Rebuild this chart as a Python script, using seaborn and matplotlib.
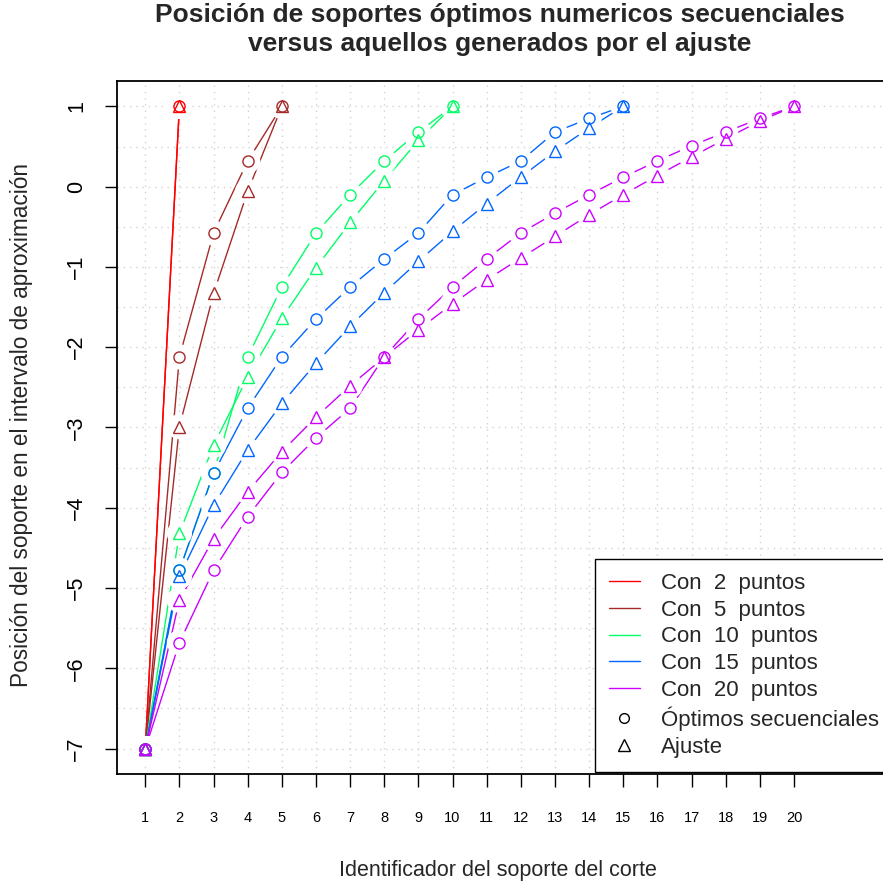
import matplotlib
matplotlib.use("Agg")
import matplotlib.pyplot as plt
import seaborn as sns
import pandas as pd
from matplotlib.lines import Line2D
from matplotlib.ticker import MultipleLocator

sns.set_style("white")
plt.rcParams["font.family"] = ["Liberation Sans", "DejaVu Sans"]

# ---------------- data ----------------
ids = list(range(1, 21))
n_puntos = [2, 5, 10, 15, 20]
colores = ["#FF0000", "#A52A2A", "#00FF66", "#0066FF", "#CC00FF"]

opt_2 = [-7, 1]
opt_5 = [-7, -2.12, -0.577, 0.32, 1]
opt_10 = [-7, -4.78, -3.57, -2.12, -1.25, -0.577, -0.10, 0.32, 0.68, 1]
opt_15 = [-7, -4.78, -3.57, -2.76, -2.12, -1.65, -1.25, -0.90, -0.577, -0.10,
          0.117, 0.32, 0.68, 0.85, 1]
opt_20 = [-7, -5.68, -4.78, -4.11, -3.56, -3.13, -2.76, -2.12, -1.65, -1.25,
          -0.90, -0.577, -0.33, -0.10, 0.117, 0.32, 0.51, 0.68, 0.85, 1]

fit_2 = [-7, 1]
fit_5 = [-7, -2.99, -1.33, -0.057, 1]
fit_10 = [-7, -4.32, -3.22, -2.37, -1.64, -1.01, -0.445, 0.076, 0.576, 1]
fit_15 = [-7, -4.855, -3.97, -3.28, -2.70, -2.20, -1.74, -1.32, -0.93, -0.557,
          -0.21, 0.12, 0.44, 0.73, 1]
fit_20 = [-7, -5.15, -4.385, -3.80, -3.30, -2.87, -2.48, -2.125, -1.78, -1.46,
          -1.16, -0.89, -0.62, -0.35, -0.10, 0.139, 0.37, 0.597, 0.817, 1]

y_ticks = [-7, -6, -5, -4, -3, -2, -1, 0, 1]

titulo_1 = "Posición de soportes óptimos numericos secuenciales"
titulo_2 = "versus aquellos generados por el ajuste"
x_label = "Identificador del soporte del corte"
y_label = "Posición del soporte en el intervalo de aproximación"
lbl_opt = "Óptimos secuenciales"
lbl_fit = "Ajuste"

opt_all = [opt_2, opt_5, opt_10, opt_15, opt_20]
fit_all = [fit_2, fit_5, fit_10, fit_15, fit_20]

rows = []
for n, o, f in zip(n_puntos, opt_all, fit_all):
    for i, v in enumerate(o):
        rows.append({"id": ids[i], "pos": v, "n": n, "tipo": "opt"})
    for i, v in enumerate(f):
        rows.append({"id": ids[i], "pos": v, "n": n, "tipo": "fit"})
df = pd.DataFrame(rows)
pal = dict(zip(n_puntos, colores))

# ---------------- figure ----------------
W, H = 883, 888
fig = plt.figure(figsize=(W / 100, H / 100), dpi=100)
ax_l, ax_r, ax_t, ax_b = 116.6, 890.9, 80.7, 774.3
ax = fig.add_axes([ax_l / W, 1 - ax_b / H, (ax_r - ax_l) / W, (ax_b - ax_t) / H])

# lines (R type="b": gaps around the points)
sns.lineplot(data=df, x="id", y="pos", hue="n", units="tipo", estimator=None,
             palette=pal, linewidth=1.0, legend=False, sort=False, ax=ax)
for ln in ax.lines:
    ln.set_zorder(2)

# white halos that open the gaps around the points
nc = len(ax.collections)
sns.scatterplot(x=df["id"], y=df["pos"], color="white", marker="o", s=330,
                linewidth=0, legend=False, ax=ax)
for coll in ax.collections[nc:]:
    coll.set_facecolor("white")
    coll.set_edgecolor("none")
    coll.set_zorder(3)

# hollow markers (markers only, no connecting line)
for n, c in zip(n_puntos, colores):
    for tipo, mk, ms in [("opt", "o", 8), ("fit", "^", 9)]:
        s = df[(df["tipo"] == tipo) & (df["n"] == n)]
        n_before = len(ax.lines)
        sns.lineplot(x=s["id"], y=s["pos"], color=c, marker=mk, markersize=ms,
                     markerfacecolor="none", markeredgecolor=c, markeredgewidth=1.0,
                     legend=False, ax=ax, estimator=None)
        for ln in ax.lines[n_before:]:
            ln.set_linestyle("None")
            ln.set_zorder(4)

ax.set_xlim(0.16, 22.84)
ax.set_ylim(-7.32, 1.32)

# ticks and grid
ax.set_xticks(ids)
ax.set_xticklabels([str(i) for i in ids], fontsize=10.5)
ax.set_yticks(y_ticks)
ax.set_yticklabels([str(v).replace("-", "\u2212") for v in y_ticks], fontsize=15.5,
                   rotation=90, va="center")
ax.yaxis.set_minor_locator(MultipleLocator(0.5))
ax.tick_params(axis="y", which="minor", length=0)
grid_kw = dict(color="#D3D3D3", linewidth=1.0, linestyle=(0, (1, 3.5)))
ax.grid(True, which="both", axis="y", **grid_kw)
ax.grid(True, which="major", axis="x", **grid_kw)
ax.set_axisbelow(True)

ax.tick_params(axis="x", which="major", direction="out", length=9.5, width=1,
               pad=17, colors="black", bottom=True)
ax.tick_params(axis="y", which="major", direction="out", length=9, width=1,
               pad=12, colors="black", left=True)
for sp in ax.spines.values():
    sp.set_visible(True)
    sp.set_color("black")
    sp.set_linewidth(1.3)
ax.set_xlabel("")
ax.set_ylabel("")

# texts
fig.text(500 / W, 1 - 22 / H, titulo_1, ha="center", va="baseline", fontsize=19,
         fontweight="bold")
fig.text(500 / W, 1 - 51 / H, titulo_2, ha="center", va="baseline", fontsize=19,
         fontweight="bold")
fig.text(498 / W, 1 - 870 / H, x_label, ha="center", va="center", fontsize=15.5)
fig.text(22 / W, 1 - 425 / H, y_label, ha="center", va="center", fontsize=16.3,
         rotation=90)

# legend
handles = [Line2D([], [], color=c, lw=1.0) for c in colores]
labels = [f"Con  {n}  puntos" for n in n_puntos]
handles += [Line2D([], [], ls="", marker="o", mfc="none", mec="black", ms=7, mew=1.0),
            Line2D([], [], ls="", marker="^", mfc="none", mec="black", ms=9, mew=1.0)]
labels += [lbl_opt, lbl_fit]
leg = ax.legend(handles, labels, loc="upper left",
                bbox_to_anchor=(595 / W, 1 - 559 / H), bbox_transform=fig.transFigure,
                borderaxespad=0, fontsize=16, frameon=True, fancybox=False,
                framealpha=1, edgecolor="black", handlelength=1.4,
                handletextpad=0.95, borderpad=0.62, labelspacing=0.26)
leg.get_frame().set_linewidth(1.0)
leg.set_zorder(10)

fig.savefig("out.png", dpi=100)
